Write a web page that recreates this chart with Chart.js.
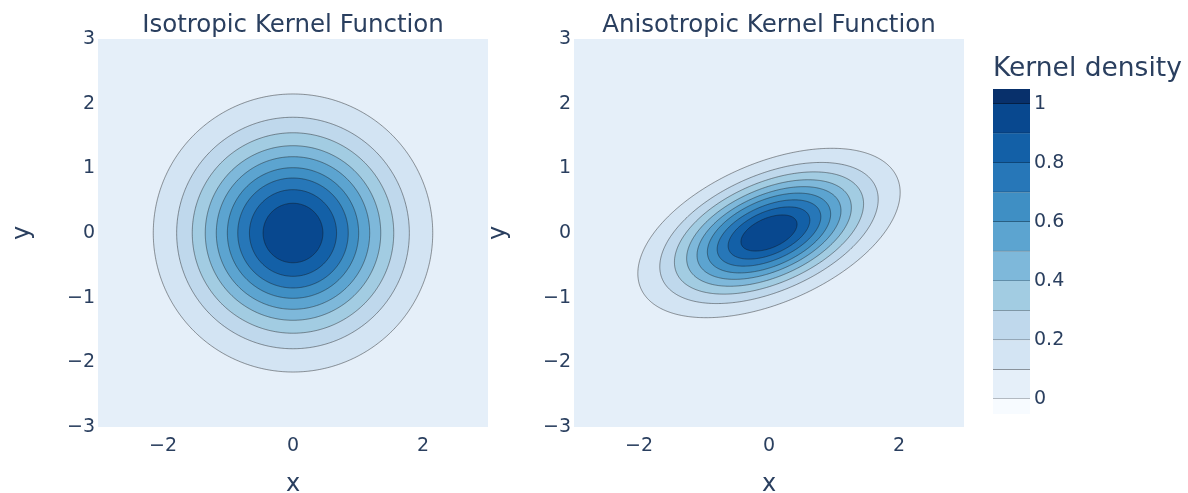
<!DOCTYPE html>
<html>
<head>
<meta charset="utf-8">
<script src="https://cdn.jsdelivr.net/npm/chart.js@4.4.1/dist/chart.umd.min.js"></script>
<style>
  html, body { margin: 0; padding: 0; background: #fff; width: 1188px; height: 493px; overflow: hidden; }
  canvas { position: absolute; top: 0; }
</style>
</head>
<body>
<canvas id="isoChart" width="490" height="493" style="left:0px"></canvas>
<canvas id="anisoChart" width="492" height="493" style="left:476px"></canvas>
<canvas id="barChart" width="203" height="493" style="left:985px"></canvas>
<script>
// contour levels and the size of each contour
var levels = [0.1, 0.2, 0.3, 0.4, 0.5, 0.6, 0.7, 0.8, 0.9];
var isoRadius = [2.15, 1.79, 1.55, 1.35, 1.18, 1.01, 0.85, 0.67, 0.46];
var anisoMajor = [2.15, 1.79, 1.55, 1.35, 1.18, 1.01, 0.85, 0.67, 0.46];
var anisoMinor = [1.08, 0.90, 0.78, 0.68, 0.59, 0.51, 0.42, 0.33, 0.23];
var anisoAngle = 23.5;

var xTicks = [-2, 0, 2];
var yTicks = [-3, -2, -1, 0, 1, 2, 3];
var colorbarTicks = [0, 0.2, 0.4, 0.6, 0.8, 1];
var bandEdges = [-0.05, 0, 0.1, 0.2, 0.3, 0.4, 0.5, 0.6, 0.7, 0.8, 0.9, 1.0, 1.05];

// plotly "Blues" steps for each band (below 0, 0-0.1, ..., above 1)
var bandColors = [
  [247, 251, 255], [229, 239, 249], [211, 228, 243], [191, 216, 236],
  [162, 204, 226], [126, 184, 218], [92, 164, 208], [63, 143, 196],
  [39, 119, 184], [19, 96, 167], [8, 72, 143], [8, 48, 107]
];

Chart.defaults.font.family = '"DejaVu Sans", Verdana, sans-serif';
Chart.defaults.color = '#2a3f5f';

function rgb(c) { return 'rgb(' + c.join(',') + ')'; }
function minus(v) { return String(v).replace('-', '\u2212'); }

function ellipse(a, b, deg) {
  var t = deg * Math.PI / 180, pts = [];
  for (var i = 0; i <= 180; i++) {
    var p = i / 180 * 2 * Math.PI;
    var ex = a * Math.cos(p), ey = b * Math.sin(p);
    pts.push({ x: ex * Math.cos(t) - ey * Math.sin(t), y: ex * Math.sin(t) + ey * Math.cos(t) });
  }
  return pts;
}

var plotBg = {
  id: 'plotBg',
  beforeDraw: function (chart) {
    var a = chart.chartArea, ctx = chart.ctx;
    ctx.save();
    ctx.fillStyle = rgb(bandColors[1]);
    ctx.fillRect(a.left, a.top, a.right - a.left, a.bottom - a.top);
    ctx.restore();
  }
};

function contourChart(id, title, major, minor, angle, padRight) {
  var datasets = [];
  for (var i = levels.length - 1; i >= 0; i--) {
    datasets.push({
      label: 'level ' + levels[i],
      data: ellipse(major[i], minor[i], angle),
      showLine: true,
      fill: 'shape',
      backgroundColor: rgb(bandColors[i + 2]),
      borderColor: 'rgba(20,20,20,0.55)',
      borderWidth: 0.8,
      pointRadius: 0,
      tension: 0.01  // keeps the line off the x-sorted fast path
    });
  }
  return new Chart(id, {
    type: 'scatter',
    data: { datasets: datasets },
    plugins: [plotBg],
    options: {
      responsive: false,
      animation: false,
      events: [],
      layout: { padding: { right: padRight } },
      plugins: {
        legend: { display: false },
        tooltip: { enabled: false },
        title: {
          display: true,
          text: title,
          fullSize: false,
          font: { size: 24.5, weight: 'normal' },
          color: '#2a3f5f',
          padding: { top: 10.5, bottom: -0.9 }
        }
      },
      scales: {
        x: {
          type: 'linear', min: -3, max: 3,
          grid: { display: false, drawTicks: false },
          border: { display: false },
          afterBuildTicks: function (s) { s.ticks = xTicks.map(function (v) { return { value: v }; }); },
          afterFit: function (s) { s.height = 66; },
          ticks: { font: { size: 19 }, padding: 8, autoSkip: false, maxRotation: 0, callback: minus },
          title: { display: true, text: 'x', font: { size: 24, lineHeight: 0.7 }, padding: 0 }
        },
        y: {
          type: 'linear', min: -3, max: 3,
          grid: { display: false, drawTicks: false },
          border: { display: false },
          afterBuildTicks: function (s) { s.ticks = yTicks.map(function (v) { return { value: v }; }); },
          afterFit: function (s) { s.width = 98; },
          ticks: { font: { size: 19 }, padding: 3, autoSkip: false, callback: minus },
          title: { display: true, text: 'y', font: { size: 24, lineHeight: 1 }, padding: { top: 11 } }
        }
      }
    }
  });
}

contourChart('isoChart', 'Isotropic Kernel Function', isoRadius, isoRadius, 0, 2);
contourChart('anisoChart', 'Anisotropic Kernel Function', anisoMajor, anisoMinor, anisoAngle, 4);

// colour bar
var barSets = [];
for (var i = 0; i < bandColors.length; i++) {
  var c = bandColors[i];
  barSets.push({
    label: bandEdges[i] + '-' + bandEdges[i + 1],
    data: [[bandEdges[i], bandEdges[i + 1]]],
    backgroundColor: rgb(c),
    borderColor: rgb(c.map(function (v) { return Math.round(v * 0.55); })),
    borderWidth: i === 0 ? 0 : { top: 0, right: 0, bottom: 1, left: 0 },
    borderSkipped: false,
    grouped: false,
    barPercentage: 1,
    categoryPercentage: 1
  });
}

new Chart('barChart', {
  type: 'bar',
  data: { labels: [''], datasets: barSets },
  options: {
    responsive: false,
    animation: false,
    events: [],
    layout: { padding: { left: 8, bottom: 79 } },
    plugins: {
      legend: { display: false },
      tooltip: { enabled: false },
      title: {
        display: true,
        text: 'Kernel density',
        align: 'start',
        font: { size: 26.5, weight: 'normal' },
        color: '#2a3f5f',
        padding: { top: 53, bottom: 4.2 }
      }
    },
    scales: {
      x: { display: false },
      y: {
        position: 'right',
        min: -0.05, max: 1.05,
        grid: { display: false, drawTicks: false },
        border: { display: false },
        afterBuildTicks: function (s) { s.ticks = colorbarTicks.map(function (v) { return { value: v }; }); },
        afterFit: function (s) { s.width = 158; },
        ticks: { font: { size: 19 }, padding: 4, autoSkip: false, callback: function (v) { return String(v); } }
      }
    }
  }
});
</script>
</body>
</html>
